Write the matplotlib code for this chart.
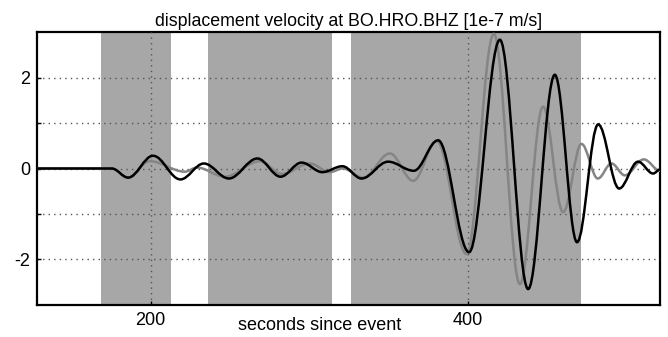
import numpy as np
import matplotlib
matplotlib.use('Agg')
import matplotlib.pyplot as plt
from matplotlib.path import Path
from matplotlib.patches import PathPatch

plt.rcParams['font.family'] = 'Liberation Sans'
plt.rcParams['font.size'] = 13

# Extrema of each trace (seconds since event, 1e-7 m/s)
t_black = [128.5, 175.6, 185.9, 201.6, 218.8, 233.6, 249.3, 267.3, 281.9, 295.1,
           308.2, 320.8, 332.9, 349.6, 365.8, 381.1, 400.6, 420.0, 437.8, 454.6,
           468.6, 481.9, 495.1, 507.0, 516.5, 521.0]
v_black = [0.0, 0.0, -0.20, 0.28, -0.24, 0.11, -0.22, 0.22, -0.18, 0.13,
           -0.08, 0.05, -0.22, 0.15, -0.05, 0.62, -1.84, 2.83, -2.65, 2.06,
           -1.62, 0.97, -0.44, 0.15, -0.11, -0.02]

t_gray = [128.5, 175.6, 185.7, 199.6, 221.6, 229.2, 246.8, 268.8, 282.7, 300.3,
          312.9, 321.1, 333.9, 350.7, 365.4, 380.3, 399.0, 416.2, 432.6, 447.2,
          459.8, 471.4, 481.7, 490.3, 498.7, 510.6, 521.0]
v_gray = [0.0, 0.0, -0.20, 0.16, -0.07, 0.02, -0.18, 0.16, -0.12, 0.11,
          -0.08, 0.0, -0.20, 0.33, -0.27, 0.60, -1.88, 2.96, -2.54, 1.36,
          -0.96, 0.54, -0.22, 0.11, -0.15, 0.20, -0.05]

# shaded time windows
windows = [(168.7, 212.8), (236.1, 314.2), (326.1, 471.0)]


def wave_path(t, v, k=0.363):
    # smooth curve through the extrema, horizontal tangent at each one
    verts = [(t[0], v[0])]
    codes = [Path.MOVETO]
    for i in range(len(t) - 1):
        dt = t[i + 1] - t[i]
        verts += [(t[i] + k * dt, v[i]), (t[i + 1] - k * dt, v[i + 1]), (t[i + 1], v[i + 1])]
        codes += [Path.CURVE4] * 3
    return Path(verts, codes)


fig = plt.figure(figsize=(6.68, 3.37), dpi=100)
ax = fig.add_axes([0.0554, 0.095, 0.933, 0.81])

for a, b in windows:
    ax.axvspan(a, b, color='#a7a7a7', lw=0, zorder=0)

ax.add_patch(PathPatch(wave_path(t_gray, v_gray), fill=False, ec='#858585', lw=1.8, zorder=3))
ax.add_patch(PathPatch(wave_path(t_black, v_black), fill=False, ec='black', lw=1.8, zorder=4))

ax.set_xlim(128.5, 521)
ax.set_ylim(-3, 3)
ax.set_xticks([200, 400])
ax.set_yticks([-2, -1, 0, 1, 2])
ax.set_yticklabels(['-2', '', '0', '', '2'])
ax.grid(True, ls=(0, (1, 3)), color='#555555', lw=1.0, zorder=1)
ax.set_axisbelow(False)
ax.tick_params(direction='in', length=3, width=1, pad=5, labelsize=13)
for s in ax.spines.values():
    s.set_linewidth(1.6)

ax.set_title('displacement velocity at BO.HRO.BHZ [1e-7 m/s]', fontsize=12.8, pad=4)
ax.set_xlabel('seconds since event', fontsize=13)
ax.xaxis.set_label_coords(0.453, -0.045)

fig.savefig('out.png', dpi=100)
